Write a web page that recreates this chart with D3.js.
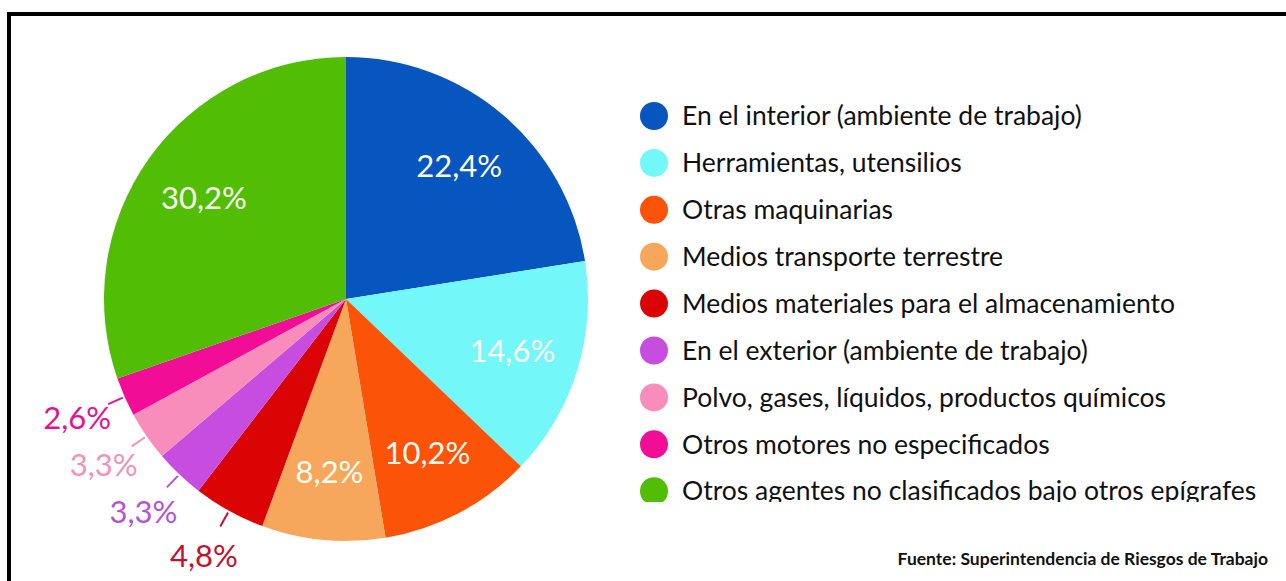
<!DOCTYPE html>
<html>
<head>
<meta charset="utf-8">
<script src="https://cdn.jsdelivr.net/npm/d3@7"></script>
<style>
  body { margin: 0; background: #fff; }
  svg { display: block; }
</style>
</head>
<body>
<div id="chart"></div>
<script>
var categories = [
    "En el interior (ambiente de trabajo)",
    "Herramientas, utensilios",
    "Otras maquinarias",
    "Medios transporte terrestre",
    "Medios materiales para el almacenamiento",
    "En el exterior (ambiente de trabajo)",
    "Polvo, gases, líquidos, productos químicos",
    "Otros motores no especificados",
    "Otros agentes no clasificados bajo otros epígrafes"
];
var values = [22.4, 14.6, 10.2, 8.2, 4.8, 3.3, 3.3, 2.6, 30.2];
var colors = ["#0755bf", "#74f7f9", "#fb5308", "#f7a75c", "#da0404", "#c64ddf", "#f88cba", "#f20d97", "#51bd05"];
// labels that sit outside the pie (small slices)
var outside = [false, false, false, false, true, true, true, true, false];
var outsideText = ["", "", "", "", "#c8102e", "#b652d6", "#f291b9", "#e8118f"];
var source = "Fuente: Superintendencia de Riesgos de Trabajo";

var fullWidth = 1286;
var fullHeight = 581;
var cx = 346, cy = 299, radius = 242;

var fmt = function (v) { return d3.format(".1f")(v).replace(".", ",") + "%"; };

var svg = d3.select("#chart").append("svg")
    .attr("width", fullWidth)
    .attr("height", fullHeight);

// frame (runs off the right and bottom edges)
svg.append("rect")
    .attr("x", 9).attr("y", 14)
    .attr("width", 1400).attr("height", 700)
    .attr("fill", "none")
    .attr("stroke", "#000")
    .attr("stroke-width", 4);

var pie = d3.pie().sort(null).value(d => d);
var arcs = pie(values);

var arc = d3.arc().innerRadius(0).outerRadius(radius);
var labelArc = d3.arc().innerRadius(radius * 0.72).outerRadius(radius * 0.72);

var g = svg.append("g").attr("transform", "translate(" + cx + "," + cy + ")");

g.selectAll("path.slice")
    .data(arcs)
    .enter().append("path")
    .attr("class", "slice")
    .attr("d", arc)
    .attr("fill", (d, i) => colors[i]);

// inside labels
g.selectAll("text.inside")
    .data(arcs.filter((d, i) => !outside[i]))
    .enter().append("text")
    .attr("class", "inside")
    .attr("transform", d => "translate(" + labelArc.centroid(d) + ")")
    .attr("text-anchor", "middle")
    .attr("dy", "0.35em")
    .attr("font-family", "Lato, 'Open Sans', sans-serif")
    .attr("font-size", 31)
    .attr("fill", "#fdfdf4")
    .text(d => fmt(d.data));

// outside labels with short leader lines
var outs = arcs.map((d, i) => ({ d: d, i: i })).filter(o => outside[o.i]);
function polar(a, r) { return [Math.sin(a) * r, -Math.cos(a) * r]; }

g.selectAll("line.leader")
    .data(outs)
    .enter().append("line")
    .attr("class", "leader")
    .each(function (o) {
        var a = (o.d.startAngle + o.d.endAngle) / 2;
        var p1 = polar(a, radius + 2), p2 = polar(a, radius + 18);
        d3.select(this).attr("x1", p1[0]).attr("y1", p1[1]).attr("x2", p2[0]).attr("y2", p2[1]);
    })
    .attr("stroke", o => outsideText[o.i])
    .attr("stroke-width", 2);

g.selectAll("text.outside")
    .data(outs)
    .enter().append("text")
    .attr("class", "outside")
    .attr("transform", o => "translate(" + polar((o.d.startAngle + o.d.endAngle) / 2, radius + 52) + ")")
    .attr("text-anchor", "middle")
    .attr("dy", "0.35em")
    .attr("font-family", "Lato, 'Open Sans', sans-serif")
    .attr("font-size", 31)
    .attr("fill", o => outsideText[o.i])
    .text(o => fmt(o.d.data));

// legend, clipped at the bottom like the original
svg.append("clipPath").attr("id", "legclip")
    .append("rect").attr("x", 600).attr("y", 60).attr("width", 700).attr("height", 442);

var legend = svg.append("g").attr("clip-path", "url(#legclip)");
var rowY = d3.scaleLinear().domain([0, 1]).range([116, 162.9]);

var rows = legend.selectAll("g.row")
    .data(categories)
    .enter().append("g")
    .attr("class", "row")
    .attr("transform", (d, i) => "translate(654," + rowY(i) + ")");

rows.append("circle")
    .attr("r", 14)
    .attr("fill", (d, i) => colors[i]);

rows.append("text")
    .attr("x", 28)
    .attr("dy", "0.35em")
    .attr("font-family", "Lato, 'Open Sans', sans-serif")
    .attr("font-size", 26.5)
    .attr("fill", "#111")
    .text(d => d);

svg.append("text")
    .attr("x", 1268)
    .attr("y", 565)
    .attr("text-anchor", "end")
    .attr("font-family", "Lato, 'Open Sans', sans-serif")
    .attr("font-weight", "bold")
    .attr("font-size", 17.5)
    .attr("fill", "#111")
    .text(source);
</script>
</body>
</html>
